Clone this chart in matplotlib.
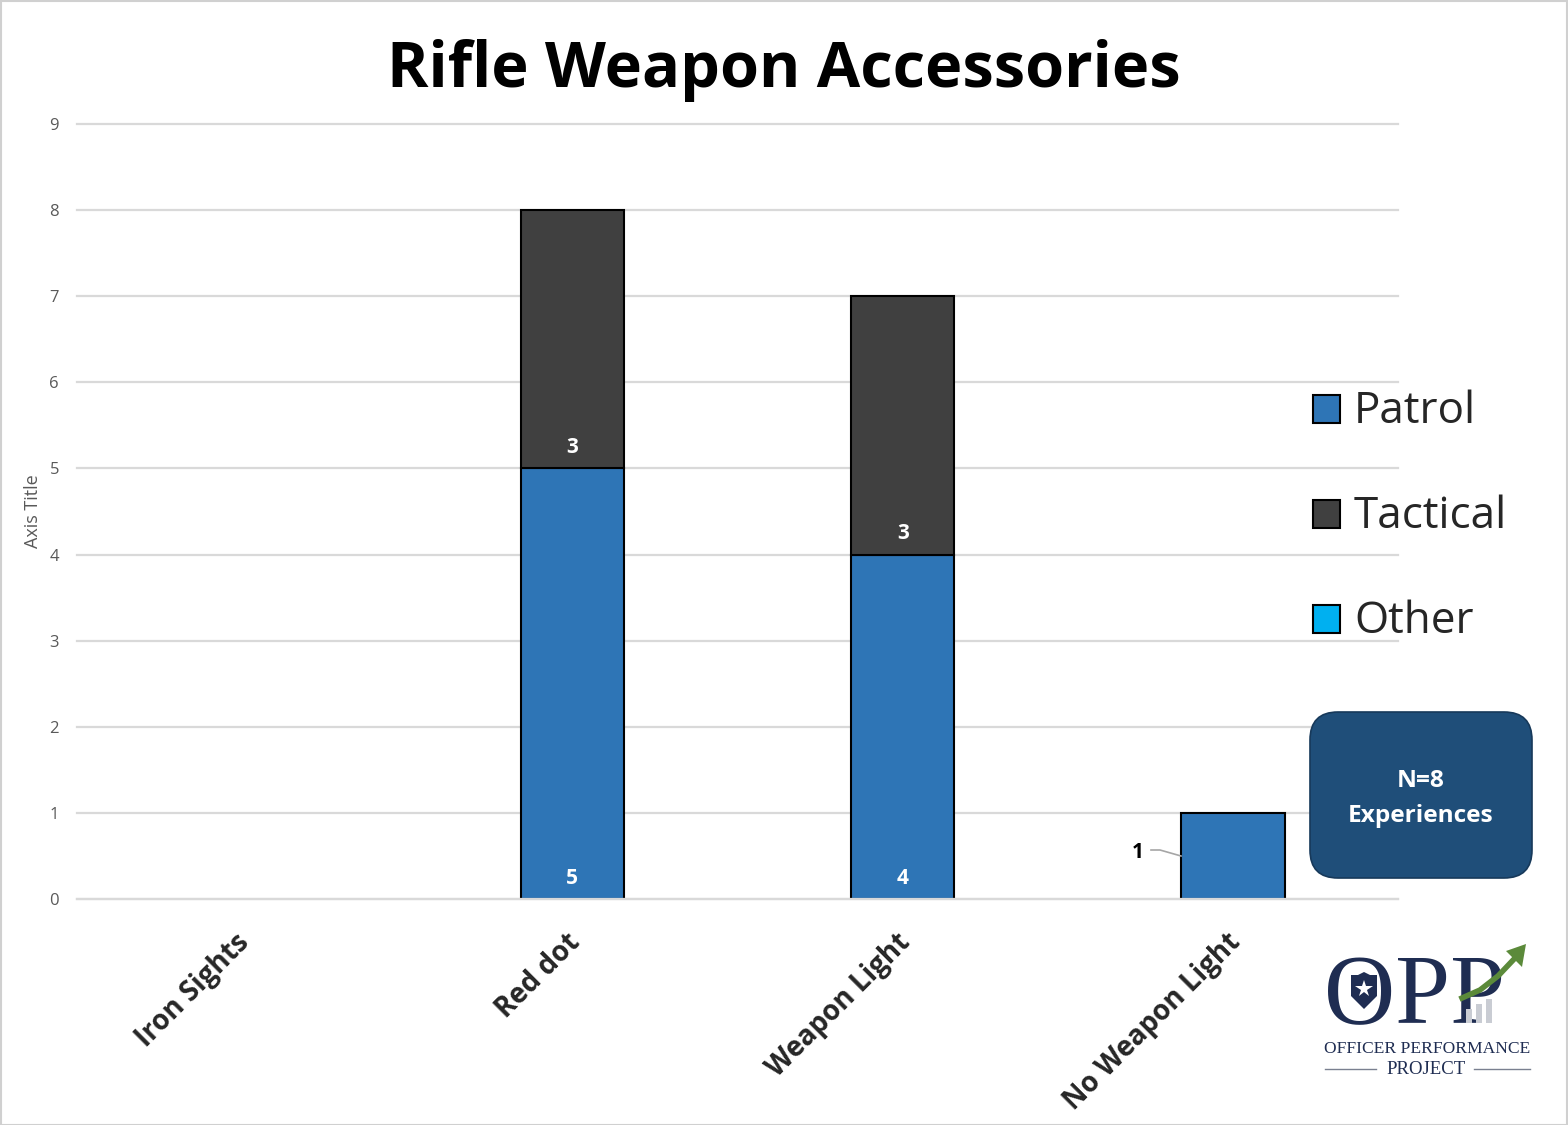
import matplotlib
matplotlib.use("Agg")
import matplotlib.pyplot as plt
from matplotlib.patches import FancyBboxPatch, Rectangle, Polygon
import numpy as np

plt.rcParams['font.family'] = ['Open Sans', 'DejaVu Sans']

categories = ['Iron Sights', 'Red dot', 'Weapon Light', 'No Weapon Light']
patrol = np.array([0, 5, 4, 1])
tactical = np.array([0, 3, 3, 0])
other = np.array([0, 0, 0, 0])
yticks = list(range(0, 10))
legend_names = ['Patrol', 'Tactical', 'Other']
legend_colors = ['#2e75b6', '#404040', '#00b0f0']

W, H = 1568, 1125
fig = plt.figure(figsize=(W / 100, H / 100), dpi=100)
# outer frame, has to stay behind the axes
fig.add_artist(Rectangle((0.5 / W, 0.5 / H), 1 - 1.5 / W, 1 - 1.5 / H, transform=fig.transFigure,
                         fc='white', ec='#d0d0d0', lw=1.5, zorder=-1))

# plot area: x 77..1398, y 124(9)..899(0)
ax = fig.add_axes([77 / W, 1 - 899 / H, (1398 - 77) / W, (899 - 124) / H])
ax.patch.set_alpha(0)
x = np.arange(len(categories))
ax.set_xlim(-0.5, 3.5)
ax.set_ylim(0, 9)
width = 0.3135
ax.set_axisbelow(True)
ax.yaxis.grid(True, color='#d9d9d9', lw=1.6, clip_on=False)
bars1 = ax.bar(x, patrol, width, color='#2e75b6', ec='black', lw=1.5, label='Patrol')
bars2 = ax.bar(x, tactical, width, bottom=patrol, color='#404040', ec='black', lw=1.5, label='Tactical')
# empty bars would leave a black line on the baseline
for b in list(bars1) + list(bars2):
    if b.get_height() == 0:
        b.set_visible(False)

for s in ['top', 'right', 'left']:
    ax.spines[s].set_visible(False)
ax.spines['bottom'].set_color('#d9d9d9')
ax.spines['bottom'].set_linewidth(1.6)
ax.set_yticks(yticks)
ax.tick_params(axis='y', length=0, labelsize=12, labelcolor='#595959', pad=13)
ax.set_xticks(x)
ax.set_xticklabels([])
ax.tick_params(axis='x', length=0)

# data labels
for i, v in enumerate(patrol):
    if i in (1, 2):
        ax.annotate(str(v), (x[i], 0), xytext=(0, 20 * 0.72), textcoords='offset points',
                    ha='center', va='center', color='white', fontsize=15, fontweight='bold')
for i, v in enumerate(tactical):
    if v > 0:
        ax.annotate(str(v), (x[i], patrol[i]), xytext=(0, 21 * 0.72), textcoords='offset points',
                    ha='center', va='center', color='white', fontsize=15, fontweight='bold')

# everything else in pixel coordinates, on top of the chart
bg = fig.add_axes([0, 0, 1, 1])
bg.set_xlim(0, W)
bg.set_ylim(H, 0)
bg.axis('off')
bg.patch.set_alpha(0)

# rotated category labels, anchored at their upper right end
label_ends = [(235, 928), (566, 928), (896, 928), (1226, 928)]
for name, (px, py) in zip(categories, label_ends):
    bg.text(px, py, name, rotation=45, rotation_mode='anchor', ha='right', va='top',
            fontsize=20, fontweight='bold', color='#262626', zorder=5)

bg.text(1138, 853, str(patrol[3]), ha='center', va='center', fontsize=15, fontweight='bold', color='black', zorder=5)
bg.plot([1151, 1160, 1181], [850, 850, 856], color='#a6a6a6', lw=1.2, zorder=5)

bg.text(33, 511, 'Axis Title', rotation=90, ha='center', va='center', fontsize=13, color='#595959')

bg.text(784, 71, 'Rifle Weapon Accessories', ha='center', va='center', fontsize=45.4,
        fontweight='bold', color='black')

# legend
legend_y = [409, 514, 619]
for name, col, ly in zip(legend_names, legend_colors, legend_y):
    bg.add_patch(Rectangle((1313, ly - 14), 27, 28, fc=col, ec='black', lw=1.5, zorder=4))
    bg.text(1354, ly + 3, name, va='center', ha='left', fontsize=31.7, color='#262626', zorder=5)

# N box
bg.add_patch(FancyBboxPatch((1310, 712), 222, 166, boxstyle='round,pad=0,rounding_size=28',
                            fc='#1f4e79', ec='#17395a', lw=1.2, zorder=4))
bg.text(1421, 781, 'N=8', ha='center', va='center', fontsize=17.6, fontweight='bold', color='white', zorder=5)
bg.text(1421, 816, 'Experiences', ha='center', va='center', fontsize=17.6, fontweight='bold', color='white', zorder=5)

# logo
navy = '#1f2d52'
bg.text(1415, 1023, 'OPP', ha='center', va='baseline', fontsize=71, family='Liberation Serif',
        color=navy, zorder=5)
bg.add_patch(Polygon([(1351, 975), (1358, 975), (1364, 972), (1370, 975), (1377, 975), (1377, 996),
                      (1364, 1009), (1351, 996)], fc=navy, ec='none', zorder=6))
bg.plot([1364], [989], marker='*', ms=13, color='white', mew=0, zorder=7)
for bx, bt in zip([1466, 1476, 1486], [1009, 1004, 999]):
    bg.add_patch(Rectangle((bx, bt), 6, 1023 - bt, fc='#c9ccd3', ec='none', zorder=6))
bg.plot([1462, 1480, 1498, 1516], [998, 990, 976, 957], color='#5b8a3a', lw=4, zorder=7)
bg.add_patch(Polygon([(1526, 944), (1506, 951), (1522, 967)], fc='#5b8a3a', ec='none', zorder=7))
bg.text(1427, 1049, 'OFFICER PERFORMANCE', ha='center', va='center', fontsize=12.6,
        family='Liberation Serif', color=navy, zorder=5)
bg.text(1426, 1069, 'PROJECT', ha='center', va='center', fontsize=13.5, family='Liberation Serif',
        color=navy, zorder=5)
bg.plot([1325, 1376], [1069, 1069], color='#7a8090', lw=1)
bg.plot([1474, 1530], [1069, 1069], color='#7a8090', lw=1)

fig.savefig('out.png', dpi=100)
